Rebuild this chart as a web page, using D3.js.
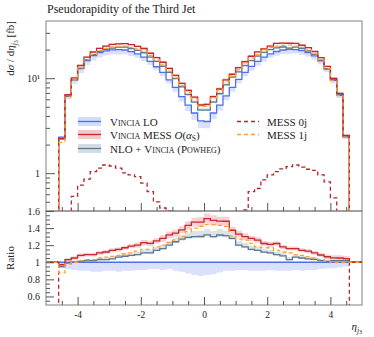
<!DOCTYPE html>
<html>
<head>
<meta charset="utf-8">
<script src="https://cdn.jsdelivr.net/npm/d3@7"></script>
<style>
body { margin: 0; background: #fff; }
text { font-family: "Liberation Serif", "DejaVu Serif", serif; fill: #222; }
</style>
</head>
<body>
<div id="chart"></div>
<script>
var width = 374,
    height = 337;

var plotLeft = 46, plotRight = 362,
    plotTop = 21, plotMid = 211, plotBottom = 305;

// bin edges of eta_j3 (46 bins)
var edges = [-4.6,-4.4,-4.2,-4.0,-3.8,-3.6,-3.4,-3.2,-3.0,-2.8,-2.6,-2.4,-2.2,-2.0,-1.8,-1.6,
             -1.4,-1.2,-1.0,-0.8,-0.6,-0.4,-0.2,0,0.2,0.4,0.6,0.8,1.0,1.2,1.4,1.6,1.8,2.0,
             2.2,2.4,2.6,2.8,3.0,3.2,3.4,3.6,3.8,4.0,4.2,4.4,4.6];

// dsigma/deta [fb] per bin
var vinciaLO = [2.4,6.5,9.6,12.6,15.3,17.3,18.6,19.4,19.9,20.0,19.8,19.0,18.0,16.7,15.0,13.2,
                11.5,9.6,8.0,6.4,5.2,4.3,3.55,3.5,4.3,5.2,6.5,8.0,9.7,11.5,13.3,15.0,16.7,18.0,
                19.1,19.8,20.1,20.0,19.5,18.6,17.2,15.2,12.5,9.5,6.6,2.4];
var vinciaMESS = [2.33,6.70,10.08,13.61,16.68,18.86,20.65,21.73,22.69,23.0,23.17,22.61,21.6,20.54,
                  18.3,16.5,14.72,12.67,10.72,8.83,7.44,6.32,5.22,5.29,6.41,7.70,9.62,11.0,12.9,
                  14.95,17.02,18.9,20.37,21.78,23.3,23.36,23.32,23.2,22.23,21.02,19.09,16.49,
                  13.31,9.98,6.93,2.50];
var nloPowheg = [2.28,6.44,9.6,12.73,15.61,17.65,19.16,19.98,20.7,21.2,21.19,20.52,19.62,18.54,
                 16.65,15.05,13.34,11.52,9.92,8.13,6.71,5.59,4.62,4.62,5.59,6.86,8.52,10.24,11.64,
                 13.57,15.3,17.1,18.7,19.98,20.82,21.29,20.7,21.2,20.48,19.34,17.8,15.5,12.63,
                 9.69,6.73,2.45];
var mess0j = [0.3,0.35,0.57,0.75,0.865,1.04,1.13,1.22,1.19,1.13,1.01,0.96,0.92,0.785,0.64,0.50,
              0.43,0.40,0.33,0.3,0.28,0.27,0.26,0.26,0.27,0.28,0.3,0.33,0.38,0.41,0.64,0.69,0.85,
              0.96,1.04,1.11,1.17,1.22,1.16,1.10,1.07,0.96,0.81,0.55,0.35,0.3];
var mess1j = [2.11,6.37,9.6,12.85,15.76,17.82,19.53,20.56,21.29,21.6,21.78,21.09,20.34,19.21,
              17.25,15.58,13.8,11.81,10.08,8.32,7.07,6.02,5.04,5.04,6.19,7.44,9.23,10.48,12.32,
              14.49,16.23,17.7,19.54,21.06,21.77,22.18,22.31,21.8,21.06,19.81,18.06,15.66,
              12.63,9.45,6.57,2.4];

// relative uncertainty bands
var loErrDn = [0.07,0.08,0.09,0.1,0.1,0.11,0.11,0.1,0.1,0.11,0.1,0.1,0.09,0.09,0.08,0.08,0.09,
               0.08,0.1,0.11,0.13,0.15,0.16,0.15,0.14,0.12,0.1,0.1,0.09,0.09,0.1,0.1,0.1,0.09,
               0.1,0.1,0.1,0.09,0.1,0.09,0.09,0.08,0.07,0.07,0.06,0.05];
var messErr = [0.03,0.02,0.02,0.02,0.02,0.02,0.02,0.02,0.02,0.02,0.02,0.02,0.025,0.025,0.025,
               0.025,0.03,0.03,0.03,0.03,0.035,0.035,0.04,0.04,0.04,0.035,0.035,0.03,0.03,0.03,
               0.025,0.025,0.025,0.025,0.02,0.02,0.02,0.02,0.02,0.02,0.02,0.02,0.025,0.03,0.03,0.03];
var nloErrUp = [0.02,0.02,0.02,0.02,0.02,0.02,0.02,0.025,0.025,0.025,0.03,0.03,0.03,0.03,0.03,
                0.035,0.035,0.04,0.04,0.04,0.045,0.05,0.05,0.05,0.05,0.05,0.045,0.04,0.04,0.04,
                0.035,0.035,0.03,0.03,0.03,0.03,0.03,0.025,0.025,0.025,0.02,0.02,0.02,0.02,0.02,0.02];
var nloErrDn = [0.01,0.01,0.01,0.01,0.01,0.01,0.01,0.01,0.01,0.01,0.01,0.01,0.01,0.01,0.01,0.01,
                0.01,0.01,0.015,0.015,0.015,0.015,0.015,0.015,0.015,0.015,0.015,0.015,0.01,0.01,
                0.01,0.01,0.01,0.01,0.01,0.01,0.01,0.01,0.01,0.01,0.01,0.01,0.01,0.01,0.01,0.01];

var xMajor = [-4, -2, 0, 2, 4];
var xMinor = [-4.5,-3.5,-3,-2.5,-1.5,-1,-0.5,0.5,1,1.5,2.5,3,3.5,4.5];
var yMajor = [1, 10];
var yMajorLabels = ["1", "10\u00b9"];
var yMinor = [0.5,0.6,0.7,0.8,0.9,2,3,4,5,6,7,8,9,20,30];
var rMajor = [0.6, 0.8, 1, 1.2, 1.4, 1.6];
var rMinor = [0.55,0.65,0.7,0.75,0.85,0.9,0.95,1.05,1.1,1.15,1.25,1.3,1.35,1.45,1.5,1.55];

var cLO = "#4d6ef2", bLO = "#d3dcfb",
    cMESS = "#c8282d", bMESS = "#f3c9cc",
    cNLO = "#5d7891", bNLO = "#d5dde4",
    c0j = "#b5252a", c1j = "#ffa033";

var svg = d3.select("#chart").append("svg")
    .attr("width", width)
    .attr("height", height);

var x = d3.scaleLinear().domain([-5, 5]).range([plotLeft, plotRight]);
var y = d3.scaleLog().domain([0.4, 40]).range([plotMid, plotTop]);
var yr = d3.scaleLinear().domain([0.5, 1.6]).range([plotBottom, plotMid]);

var defs = svg.append("defs");
defs.append("clipPath").attr("id", "clipMain").append("rect")
    .attr("x", plotLeft).attr("y", plotTop)
    .attr("width", plotRight - plotLeft).attr("height", plotMid - plotTop);
defs.append("clipPath").attr("id", "clipRatio").append("rect")
    .attr("x", plotLeft).attr("y", plotMid)
    .attr("width", plotRight - plotLeft).attr("height", plotBottom - plotMid);

// helpers building step points
function binPts(vals) {
    var p = vals.map(function(v, i) { return [edges[i], v]; });
    p.push([edges[edges.length - 1], vals[vals.length - 1]]);
    return p;
}
function mainPts(vals) {
    var p = binPts(vals);
    p.unshift([edges[0], 0.05]);
    p.push([edges[edges.length - 1], 0.05]);
    return p;
}
function ratioPts(vals) {
    var r = vals.map(function(v, i) { return v / vinciaLO[i]; });
    var p = binPts(r);
    p[p.length - 1] = [edges[edges.length - 1], 1];
    p.unshift([-5, 1]);
    p.push([5, 1]);
    return p;
}
function bandPts(vals, dn, up) {
    var p = vals.map(function(v, i) { return [edges[i], v * (1 - dn[i]), v * (1 + up[i])]; });
    var n = vals.length - 1;
    p.push([edges[edges.length - 1], p[n][1], p[n][2]]);
    return p;
}
var zeros = vinciaLO.map(function() { return 0; });

var mainLine = d3.line().curve(d3.curveStepAfter)
    .x(function(d) { return x(d[0]); }).y(function(d) { return y(d[1]); });
var ratioLine = d3.line().curve(d3.curveStepAfter)
    .x(function(d) { return x(d[0]); }).y(function(d) { return yr(d[1]); });
var mainArea = d3.area().curve(d3.curveStepAfter)
    .x(function(d) { return x(d[0]); })
    .y0(function(d) { return y(d[1]); }).y1(function(d) { return y(d[2]); });
var ratioArea = d3.area().curve(d3.curveStepAfter)
    .x(function(d) { return x(d[0]); })
    .y0(function(d, i) { return yr(d[1] / vinciaLO[Math.min(i, vinciaLO.length - 1)]); })
    .y1(function(d, i) { return yr(d[2] / vinciaLO[Math.min(i, vinciaLO.length - 1)]); });

var bands = [
    { vals: vinciaLO, dn: loErrDn, up: zeros, fill: bLO },
    { vals: vinciaMESS, dn: messErr, up: messErr, fill: bMESS },
    { vals: nloPowheg, dn: nloErrDn, up: nloErrUp, fill: bNLO }
];
var lines = [
    { vals: vinciaLO, color: cLO, dash: null },
    { vals: nloPowheg, color: cNLO, dash: null },
    { vals: vinciaMESS, color: cMESS, dash: null },
    { vals: mess0j, color: c0j, dash: "4,3" },
    { vals: mess1j, color: c1j, dash: "4,3" }
];

var gMain = svg.append("g").attr("clip-path", "url(#clipMain)");
var gRatio = svg.append("g").attr("clip-path", "url(#clipRatio)");

bands.forEach(function(b) {
    var pts = bandPts(b.vals, b.dn, b.up);
    gMain.append("path").attr("d", mainArea(pts)).attr("fill", b.fill).attr("opacity", 0.85);
    gRatio.append("path").attr("d", ratioArea(pts)).attr("fill", b.fill).attr("opacity", 0.85);
});

lines.forEach(function(l) {
    gMain.append("path").attr("d", mainLine(mainPts(l.vals)))
        .attr("fill", "none").attr("stroke", l.color).attr("stroke-width", 1.3)
        .attr("stroke-dasharray", l.dash);
    gRatio.append("path").attr("d", ratioLine(ratioPts(l.vals)))
        .attr("fill", "none").attr("stroke", l.color).attr("stroke-width", 1.3)
        .attr("stroke-dasharray", l.dash);
});

// frames
svg.append("rect").attr("x", plotLeft).attr("y", plotTop)
    .attr("width", plotRight - plotLeft).attr("height", plotMid - plotTop)
    .attr("fill", "none").attr("stroke", "#808080").attr("stroke-width", 1);
svg.append("rect").attr("x", plotLeft).attr("y", plotMid)
    .attr("width", plotRight - plotLeft).attr("height", plotBottom - plotMid)
    .attr("fill", "none").attr("stroke", "#808080").attr("stroke-width", 1);

function styleAxis(g) {
    g.select(".domain").remove();
    g.selectAll("line").attr("stroke", "#555");
    g.selectAll("text").attr("font-family", "Liberation Serif, serif").attr("fill", "#222");
}

// main y axis
svg.append("g").attr("transform", "translate(" + plotLeft + ",0)")
    .call(d3.axisLeft(y).tickValues(yMajor).tickSize(-9).tickPadding(6)
        .tickFormat(function(d, i) { return yMajorLabels[i]; }))
    .attr("font-size", 10).call(styleAxis);
svg.append("g").attr("transform", "translate(" + plotLeft + ",0)")
    .call(d3.axisLeft(y).tickValues(yMinor).tickSize(-4).tickFormat(""))
    .call(styleAxis);

// main x ticks (no labels)
svg.append("g").attr("transform", "translate(0," + plotMid + ")")
    .call(d3.axisBottom(x).tickValues(xMajor).tickSize(-8).tickFormat(""))
    .call(styleAxis);
svg.append("g").attr("transform", "translate(0," + plotMid + ")")
    .call(d3.axisBottom(x).tickValues(xMinor).tickSize(-4).tickFormat(""))
    .call(styleAxis);

// ratio y axis
svg.append("g").attr("transform", "translate(" + plotLeft + ",0)")
    .call(d3.axisLeft(yr).tickValues(rMajor).tickSize(-8).tickPadding(6)
        .tickFormat(function(d) { return d === 1 ? "1" : d.toFixed(1); }))
    .attr("font-size", 10).call(styleAxis);
svg.append("g").attr("transform", "translate(" + plotLeft + ",0)")
    .call(d3.axisLeft(yr).tickValues(rMinor).tickSize(-4).tickFormat(""))
    .call(styleAxis);

// ratio x axis
svg.append("g").attr("transform", "translate(0," + plotBottom + ")")
    .call(d3.axisBottom(x).tickValues(xMajor).tickSize(-8).tickPadding(6)
        .tickFormat(function(d) { return String(d); }))
    .attr("font-size", 9.5).call(styleAxis);
svg.append("g").attr("transform", "translate(0," + plotBottom + ")")
    .call(d3.axisBottom(x).tickValues(xMinor).tickSize(-4).tickFormat(""))
    .call(styleAxis);

// title and labels
svg.append("text").attr("x", 47).attr("y", 13).attr("font-size", 12)
    .text("Pseudorapidity of the Third Jet");

var yl = svg.append("text").attr("transform", "translate(14," + plotTop + ") rotate(-90)")
    .attr("text-anchor", "end").attr("font-size", 11);
yl.append("tspan").text("d");
yl.append("tspan").attr("font-style", "italic").text("σ");
yl.append("tspan").text(" / d");
yl.append("tspan").attr("font-style", "italic").text("η");
yl.append("tspan").attr("font-style", "italic").attr("font-size", 7.5).attr("dy", 2.5).text("j");
yl.append("tspan").attr("font-size", 6).attr("dy", 1).text("3");
yl.append("tspan").attr("dy", -3.5).text(" [fb]");

svg.append("text").attr("transform", "translate(14,258) rotate(-90)")
    .attr("text-anchor", "middle").attr("font-size", 11).text("Ratio");

var xl = svg.append("text").attr("x", 362).attr("y", 330)
    .attr("text-anchor", "end").attr("font-size", 11);
xl.append("tspan").attr("font-style", "italic").text("η");
xl.append("tspan").attr("font-style", "italic").attr("font-size", 7.5).attr("dy", 2.5).text("j");
xl.append("tspan").attr("font-size", 6).attr("dy", 1).text("3");

// legend
var legendLeft = [
    { y: 121.5, color: cLO, band: bLO },
    { y: 134.5, color: cMESS, band: bMESS },
    { y: 148.5, color: cNLO, band: bNLO }
];
legendLeft.forEach(function(d) {
    svg.append("rect").attr("x", 78).attr("y", d.y - 4.5).attr("width", 23).attr("height", 9)
        .attr("fill", d.band);
    svg.append("line").attr("x1", 78).attr("x2", 101).attr("y1", d.y).attr("y2", d.y)
        .attr("stroke", d.color).attr("stroke-width", 1.3);
});
var t1 = svg.append("text").attr("x", 110).attr("y", 125.5).attr("font-size", 11);
t1.append("tspan").style("font-variant", "small-caps").text("Vincia");
t1.append("tspan").text(" LO");

var t2 = svg.append("text").attr("x", 110).attr("y", 138.5).attr("font-size", 11);
t2.append("tspan").style("font-variant", "small-caps").text("Vincia");
t2.append("tspan").text(" MESS ");
t2.append("tspan").attr("font-style", "italic").text("O");
t2.append("tspan").text("(");
t2.append("tspan").attr("font-style", "italic").text("α");
t2.append("tspan").attr("font-size", 7.5).attr("dy", 2).text("S");
t2.append("tspan").attr("dy", -2).text(")");

var t3 = svg.append("text").attr("x", 110).attr("y", 152.5).attr("font-size", 11);
t3.append("tspan").text("NLO + ");
t3.append("tspan").style("font-variant", "small-caps").text("Vincia");
t3.append("tspan").text(" (");
t3.append("tspan").style("font-variant", "small-caps").text("Powheg");
t3.append("tspan").text(")");

var legendRight = [
    { y: 121.5, color: c0j, label: "MESS 0j" },
    { y: 134.5, color: c1j, label: "MESS 1j" }
];
legendRight.forEach(function(d) {
    svg.append("line").attr("x1", 237).attr("x2", 259).attr("y1", d.y).attr("y2", d.y)
        .attr("stroke", d.color).attr("stroke-width", 1.3).attr("stroke-dasharray", "4,3");
    svg.append("text").attr("x", 267).attr("y", d.y + 4).attr("font-size", 11).text(d.label);
});
</script>
</body>
</html>
